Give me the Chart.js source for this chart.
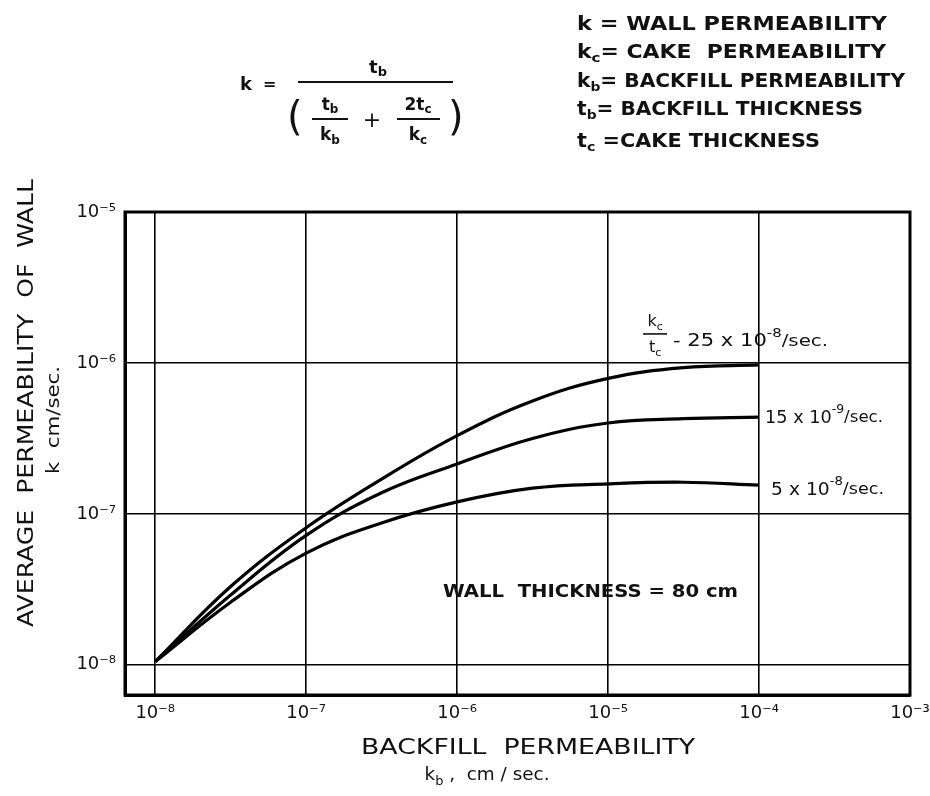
<!DOCTYPE html>
<html>
<head>
<meta charset="utf-8">
<title>Average permeability of wall</title>
<script src="https://cdn.jsdelivr.net/npm/chart.js@4.4.1/dist/chart.umd.min.js"></script>
<style>
  html, body { margin: 0; padding: 0; background: #fff; }
  #wrap { width: 930px; height: 796px; }
</style>
</head>
<body>
<div id="wrap"><canvas id="chart" width="930" height="796"></canvas></div>
<script>
// backfill permeability kb (cm/sec) where the curves were read, half decades
const backfillK = [1e-8, 3.16e-8, 1e-7, 3.16e-7, 1e-6, 3.16e-6, 1e-5, 3.16e-5, 1e-4];

// average wall permeability k (cm/sec), one list per kc/tc curve
const wallK_25e8 = [1.05e-8, 3.3e-8, 8.1e-8, 1.7e-7, 3.3e-7, 5.6e-7, 7.9e-7, 9.3e-7, 9.7e-7];
const wallK_15e9 = [1.05e-8, 2.9e-8, 7.2e-8, 1.38e-7, 2.14e-7, 3.16e-7, 4.0e-7, 4.27e-7, 4.37e-7];
const wallK_5e8 = [1.05e-8, 2.6e-8, 5.5e-8, 8.7e-8, 1.2e-7, 1.48e-7, 1.58e-7, 1.62e-7, 1.55e-7];

// decade ticks on both axes
const xTicks = [1e-8, 1e-7, 1e-6, 1e-5, 1e-4, 1e-3];
const yTicks = [1e-8, 1e-7, 1e-6, 1e-5];

const FONT = "'DejaVu Sans'";
const sup = { '-': '\u207B', '0': '\u2070', '1': '\u00B9', '2': '\u00B2', '3': '\u00B3',
  '4': '\u2074', '5': '\u2075', '6': '\u2076', '7': '\u2077', '8': '\u2078', '9': '\u2079' };
const powerLabel = v => '10' + String(Math.round(Math.log10(v))).split('').map(c => sup[c]).join('');

const toPoints = ys => backfillK.map((x, i) => ({ x: x, y: ys[i] }));

// draws a run of text pieces [text, size, raise] side by side, optionally squeezed to a width
function drawRich(ctx, parts, x, y, opt = {}) {
  const weight = opt.weight || 'normal';
  ctx.save();
  let total = 0;
  const widths = parts.map(p => {
    ctx.font = `${weight} ${p[1]}px ${FONT}`;
    const w = ctx.measureText(p[0]).width;
    total += w;
    return w;
  });
  const sx = opt.width ? opt.width / total : 1;
  ctx.translate(x, y);
  if (opt.rotate) ctx.rotate(opt.rotate);
  ctx.scale(sx, 1);
  let cx = opt.align === 'center' ? -total / 2 : 0;
  ctx.textBaseline = 'middle';
  ctx.textAlign = 'left';
  ctx.fillStyle = '#111';
  parts.forEach((p, i) => {
    ctx.font = `${weight} ${p[1]}px ${FONT}`;
    ctx.fillText(p[0], cx, p[2] || 0);
    cx += widths[i];
  });
  ctx.restore();
}

function bar(ctx, x1, x2, y, w) {
  ctx.beginPath();
  ctx.moveTo(x1, y);
  ctx.lineTo(x2, y);
  ctx.lineWidth = w || 2;
  ctx.strokeStyle = '#111';
  ctx.stroke();
}

const notes = {
  id: 'notes',
  afterDraw(chart) {
    const ctx = chart.ctx;
    const a = chart.chartArea;
    const xs = chart.scales.x;
    const ys = chart.scales.y;

    // heavy frame round the plot
    ctx.save();
    ctx.lineWidth = 3;
    ctx.strokeStyle = '#000';
    ctx.strokeRect(a.left, a.top, a.right - a.left, a.bottom - a.top);
    ctx.restore();

    // formula
    drawRich(ctx, [['k', 18], ['  =', 16]], 240, 85, { weight: 'bold' });
    drawRich(ctx, [['t', 18], ['b', 13, 5]], 378, 68, { align: 'center', weight: 'bold' });
    bar(ctx, 298, 453, 82, 2);
    drawRich(ctx, [['(', 40]], 287, 120, { weight: 'normal' });
    drawRich(ctx, [[')', 40]], 448, 120, { weight: 'normal' });
    drawRich(ctx, [['t', 17], ['b', 12, 4]], 330, 106, { align: 'center', weight: 'bold' });
    bar(ctx, 312, 348, 119, 2);
    drawRich(ctx, [['k', 17], ['b', 12, 5]], 330, 136, { align: 'center', weight: 'bold' });
    drawRich(ctx, [['+', 22]], 372, 121, { align: 'center' });
    drawRich(ctx, [['2t', 17], ['c', 12, 4]], 418, 106, { align: 'center', weight: 'bold' });
    bar(ctx, 397, 440, 119, 2);
    drawRich(ctx, [['k', 17], ['c', 12, 5]], 418, 136, { align: 'center', weight: 'bold' });

    // symbol list
    const defs = [
      [[['k', 19], [' = WALL PERMEABILITY', 19]], 25, 310],
      [[['k', 19], ['c', 13, 6], ['= CAKE  PERMEABILITY', 19]], 53, 309],
      [[['k', 19], ['b', 13, 6], ['= BACKFILL PERMEABILITY', 19]], 82, 328],
      [[['t', 19], ['b', 13, 6], ['= BACKFILL THICKNESS', 19]], 110, 286],
      [[['t', 19], ['c', 13, 6], [' =CAKE THICKNESS', 19]], 142, 243]
    ];
    defs.forEach(d => drawRich(ctx, d[0], 577, d[1], { width: d[2], weight: 'bold' }));

    // curve labels, hung off the end of each line
    const xEnd = xs.getPixelForValue(backfillK[backfillK.length - 1]);
    const yTop = ys.getPixelForValue(1e-6);
    drawRich(ctx, [['k', 16], ['c', 11, 5]], xEnd - 104, yTop - 41, { align: 'center' });
    bar(ctx, xEnd - 116, xEnd - 92, yTop - 29, 1.6);
    drawRich(ctx, [['t', 16], ['c', 11, 5]], xEnd - 104, yTop - 15, { align: 'center' });
    drawRich(ctx, [['- 25 x 10', 17], ['-8', 12, -8], ['/sec.', 16]], xEnd - 86, yTop - 21, { width: 155 });
    const yMid = ys.getPixelForValue(wallK_15e9[wallK_15e9.length - 1]);
    drawRich(ctx, [['15 x 10', 17], ['-9', 12, -8], ['/sec.', 16]], xEnd + 6, yMid + 1, { width: 118 });
    const yLow = ys.getPixelForValue(wallK_5e8[wallK_5e8.length - 1]);
    drawRich(ctx, [['5 x 10', 17], ['-8', 12, -8], ['/sec.', 16]], xEnd + 12, yLow + 5, { width: 113 });

    drawRich(ctx, [['WALL  THICKNESS = 80 cm', 17]], 443, 593, { width: 295, weight: 'bold' });

    // axis titles
    drawRich(ctx, [['AVERAGE  PERMEABILITY  OF  WALL', 22]], 27, 403,
      { align: 'center', rotate: -Math.PI / 2, width: 448 });
    drawRich(ctx, [['k  cm/sec.', 17]], 55, 420,
      { align: 'center', rotate: -Math.PI / 2, width: 108 });
    drawRich(ctx, [['BACKFILL  PERMEABILITY', 21]], 528, 749, { align: 'center', width: 334 });
    drawRich(ctx, [['k', 17], ['b', 12, 6], [' ,  cm / sec.', 17]], 487, 776, { align: 'center', width: 125 });
  }
};

const line = (label, ys) => ({
  label: label,
  data: toPoints(ys),
  borderColor: '#000',
  borderWidth: 3.2,
  pointRadius: 0,
  fill: false,
  tension: 0.4
});

new Chart(document.getElementById('chart'), {
  type: 'line',
  data: {
    datasets: [
      line('kc/tc = 25 x 10^-8', wallK_25e8),
      line('kc/tc = 15 x 10^-9', wallK_15e9),
      line('kc/tc = 5 x 10^-8', wallK_5e8)
    ]
  },
  options: {
    responsive: false,
    animation: false,
    devicePixelRatio: 1,
    layout: { padding: { top: 212, right: 20, left: 0, bottom: 0 } },
    plugins: { legend: { display: false }, tooltip: { enabled: false } },
    scales: {
      x: {
        type: 'logarithmic',
        min: Math.pow(10, -8.2),
        max: 1e-3,
        afterBuildTicks: s => { s.ticks = xTicks.map(v => ({ value: v })); },
        afterFit: s => { s.height = 101; s.paddingLeft = 0; s.paddingRight = 0; },
        ticks: {
          callback: v => powerLabel(v),
          font: { family: FONT, size: 18 },
          color: '#111',
          padding: 8,
          maxRotation: 0,
          autoSkip: false
        },
        grid: { color: '#000', lineWidth: 1.6, drawTicks: false },
        border: { display: true, color: '#000', width: 3 }
      },
      y: {
        type: 'logarithmic',
        min: Math.pow(10, -8.2),
        max: 1e-5,
        afterBuildTicks: s => { s.ticks = yTicks.map(v => ({ value: v })); },
        afterFit: s => { s.width = 125; s.paddingTop = 0; s.paddingBottom = 0; },
        ticks: {
          callback: v => powerLabel(v),
          font: { family: FONT, size: 18 },
          color: '#111',
          padding: 9,
          autoSkip: false
        },
        grid: { color: '#000', lineWidth: 1.6, drawTicks: false },
        border: { display: true, color: '#000', width: 3 }
      }
    }
  },
  plugins: [notes]
});
</script>
</body>
</html>
